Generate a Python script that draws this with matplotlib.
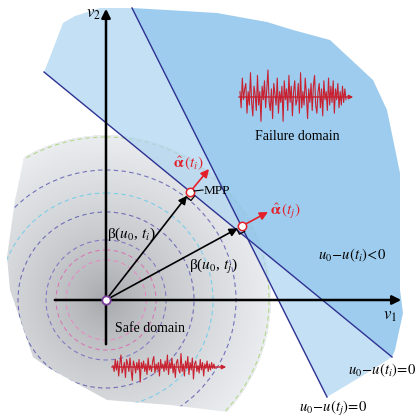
import numpy as np
import matplotlib
matplotlib.use('Agg')
import matplotlib.pyplot as plt
from matplotlib.patches import Polygon, Circle

plt.rcParams['font.family'] = ['Liberation Serif', 'DejaVu Serif']
plt.rcParams['mathtext.fontset'] = 'stix'

# standard normal space, pixel-like units (y grows downwards)
origin = (106, 300)

# limit state lines u0-u(t)=0, given by their end points
line_i = [(44, 72), (392, 357)]
line_j = [(132, 8), (327, 397)]

# outer edge of the failure domain, between the line end points
edge_top = [(50, 57), (63, 23), (75, 16), (100, 8)]
edge_right = [(167, 10), (217, 13), (267, 22), (293, 30), (330, 40), (373, 80),
              (387, 110), (400, 173), (400, 290), (403, 313), (395, 350)]
edge_bottom = [(367, 373)]

# safe domain: cut of the outer disk
safe_radius = 165
safe_cut = [(25, 0), (25, 153), (15, 200), (7, 257), (10, 290), (33, 357), (47, 367),
            (107, 400), (170, 405), (228, 412), (420, 420), (420, 0)]

# dashed contours of the joint pdf
ring_radii = [40, 50, 60, 88, 107, 130, 163]
ring_colors = ['#e58cc2', '#d67ab6', '#7f7cc4', '#6f6fb8', '#7ccdea', '#7272ba', '#b4d88a']

# most probable points
mpp_i = (190, 192)
mpp_j = (242, 226)
alpha_tip_i = (209, 169)
alpha_tip_j = (268, 212)

# sample random process realisations (tenths of peak amplitude)
signal_fail = [2, -4, 7, -1, 3, 5, -6, 2, -3, 9, -2, -7, 4, 1, -5, 8, -3, 2, -9, 4,
               -1, 6, -4, 3, 10, -2, -5, 3, -8, 5, 1, -3, 7, -6, 2, -2, 4, -9, 6, -1,
               3, -5, 8, -2, 4, -7, 2, 6, -3, -1, 5, -6, 9, -4, 2, -3, 7, 1, -8, 3,
               -2, 5, -5, 4, 8, -3, -6, 2, 5, -4, 3, -7, 6, -1, 2, -5, 7, -3, 4, -2,
               6, -6, 3, -1, 5, -4, 2, -3, 4, -2, 3, -1]
signal_safe = [1, -3, 5, -2, 4, -6, 2, 8, -4, -1, 3, -7, 5, 2, -3, 6, -2, -9, 4, 1,
               -4, 3, -2, 5, -10, 3, -1, 4, -3, 2, -5, 6, -2, 1, -3, 4, 7, -4, 2, -2,
               3, -6, 5, -1, 2, -3, 4, -2, 8, -5, 3, -1, 6, -4, 2, -7, 3, 5, -2, -4,
               9, -3, 2, -6, 4, -1, 7, -5, 3, -2, 6, -8, 2, 4, -3, 1, -4, 5, -2, 3,
               -6, 2, -1, 4, -3, 2, -2, 3, -1, 2, -1]

LINE_C = '#2e3192'
RED = '#e3202a'
SIG_C = '#c8202f'


def intersect(a, b):
    (x1, y1), (x2, y2) = a
    (x3, y3), (x4, y4) = b
    d = (x1 - x2) * (y3 - y4) - (y1 - y2) * (x3 - x4)
    t = ((x1 - x3) * (y3 - y4) - (y1 - y3) * (x3 - x4)) / d
    return (x1 + t * (x2 - x1), y1 + t * (y2 - y1))


def unit(v):
    v = np.asarray(v, float)
    return v / np.hypot(*v)


fig = plt.figure(figsize=(4.17, 4.17), dpi=100)
ax = fig.add_axes([0, 0, 1, 1])
ax.set_xlim(0, 417)
ax.set_ylim(417, 0)
ax.axis('off')

# safe domain with radial shading
cut = Polygon(safe_cut, closed=True, fc='none', ec='none')
ax.add_patch(cut)
yy, xx = np.mgrid[0:417, 0:417] + 0.5
r = np.hypot(xx - origin[0], yy - origin[1])
c = (165 + 72 * np.clip(r / safe_radius, 0, 1) ** 0.7) / 255.
img = np.dstack([c - 0.01, c, c + 0.01, (r <= safe_radius).astype(float)])
im = ax.imshow(np.clip(img, 0, 1), extent=(0, 417, 417, 0), zorder=1, interpolation='bilinear')
im.set_clip_path(cut)

for rad, col in zip(ring_radii, ring_colors):
    ring = Circle(origin, rad, fill=False, ec=col, lw=0.8, ls=(0, (4, 3)), zorder=2)
    ax.add_patch(ring)
    ring.set_clip_path(cut)

# failure domains
X = intersect(line_i, line_j)
outline_a = [line_i[0]] + edge_top + [line_j[0]]
outline_b = [line_j[0]] + edge_right + [line_i[1]]
outline_c = [line_i[1]] + edge_bottom + [line_j[1]]
ax.add_patch(Polygon(outline_a + [X], closed=True, fc='#acd4f1', ec='none', alpha=0.7, zorder=3))
ax.add_patch(Polygon(outline_c + [X], closed=True, fc='#acd4f1', ec='none', alpha=0.7, zorder=3))
ax.add_patch(Polygon(outline_b + [X], closed=True, fc='#8dc4eb', ec='none', alpha=0.85, zorder=3))

for ln in (line_i, line_j):
    ax.plot([ln[0][0], ln[1][0]], [ln[0][1], ln[1][1]], color=LINE_C, lw=1.0, zorder=4)

# axes v1, v2
ax.annotate('', xy=(404, origin[1]), xytext=(52, origin[1]),
            arrowprops=dict(arrowstyle='-|>', color='k', lw=1.8, mutation_scale=13), zorder=5)
ax.annotate('', xy=(origin[0], 6), xytext=(origin[0], 347),
            arrowprops=dict(arrowstyle='-|>', color='k', lw=1.8, mutation_scale=13), zorder=5)
ax.text(390, 316, r'$v_1$', fontsize=12, ha='center', va='center', zorder=8)
ax.text(93, 14, r'$v_2$', fontsize=12, ha='center', va='center', zorder=8)

# reliability index vectors and unit normals
for p, tip, ln in ((mpp_i, alpha_tip_i, line_i), (mpp_j, alpha_tip_j, line_j)):
    ax.annotate('', xy=p, xytext=origin,
                arrowprops=dict(arrowstyle='-|>', color='k', lw=1.2, mutation_scale=12,
                                shrinkA=0, shrinkB=3.5), zorder=6)
    ax.annotate('', xy=tip, xytext=p,
                arrowprops=dict(arrowstyle='-|>', color=RED, lw=1.2, mutation_scale=12,
                                shrinkA=3, shrinkB=0), zorder=6)
    u = unit(np.subtract(origin, p))
    v = unit(np.subtract(ln[1], ln[0]))
    s = 6
    P = np.asarray(p, float)
    sq = [P + s * v, P + s * v + s * u, P + s * u]
    ax.plot([q[0] for q in sq], [q[1] for q in sq], color='k', lw=0.9, zorder=6)
    ax.plot(*p, 'o', ms=6, mfc='white', mec=RED, mew=1.1, zorder=7)

ax.plot(*origin, 'o', ms=6, mfc='white', mec='#7a3c9a', mew=1.3, zorder=7)

# MPP tag
ax.plot([194, 203], [191, 190], color='k', lw=0.8, zorder=7)
ax.text(204, 191, 'MPP', fontsize=9.5, ha='left', va='center', zorder=8)

ax.text(189, 163, r'$\hat{\mathbf{\alpha}}\,(t_i)$', color=RED, fontsize=11,
        ha='center', va='center', zorder=8)
ax.text(286, 211, r'$\hat{\mathbf{\alpha}}\,(t_j)$', color=RED, fontsize=11,
        ha='center', va='center', zorder=8)
ax.text(131, 234, r'β($u_0$, $t_i$)', fontsize=11, ha='center', va='center', zorder=8)
ax.text(213, 266, r'β($u_0$, $t_j$)', fontsize=11, ha='center', va='center', zorder=8)

ax.text(297, 137, 'Failure domain', fontsize=10, ha='center', va='center', zorder=8)
ax.text(150, 328, 'Safe domain', fontsize=10, ha='center', va='center', zorder=8)
ax.text(352, 255, r'$u_0\!-\!u(t_i)\!<\!0$', fontsize=10.5, ha='center', va='center', zorder=8)
ax.text(416, 370, r'$u_0\!-\!u(t_i)\!=\!0$', fontsize=10.5, ha='right', va='center', zorder=8)
ax.text(333, 408, r'$u_0\!-\!u(t_j)\!=\!0$', fontsize=10.5, ha='center', va='center', zorder=8)

# process realisations in each domain
for sig, x0, x1, y0, amp, end in ((signal_fail, 240, 346, 97, 2.7, 356),
                                  (signal_safe, 113, 215, 367, 1.5, 229)):
    xs = np.linspace(x0, x1, len(sig))
    ax.annotate('', xy=(end, y0), xytext=(x0 - 4, y0),
                arrowprops=dict(arrowstyle='-|>', color=SIG_C, lw=1.0, mutation_scale=6), zorder=6)
    ax.plot(xs, y0 - amp * np.asarray(sig), color=SIG_C, lw=0.8, zorder=6)

fig.savefig('out.png', dpi=100)
